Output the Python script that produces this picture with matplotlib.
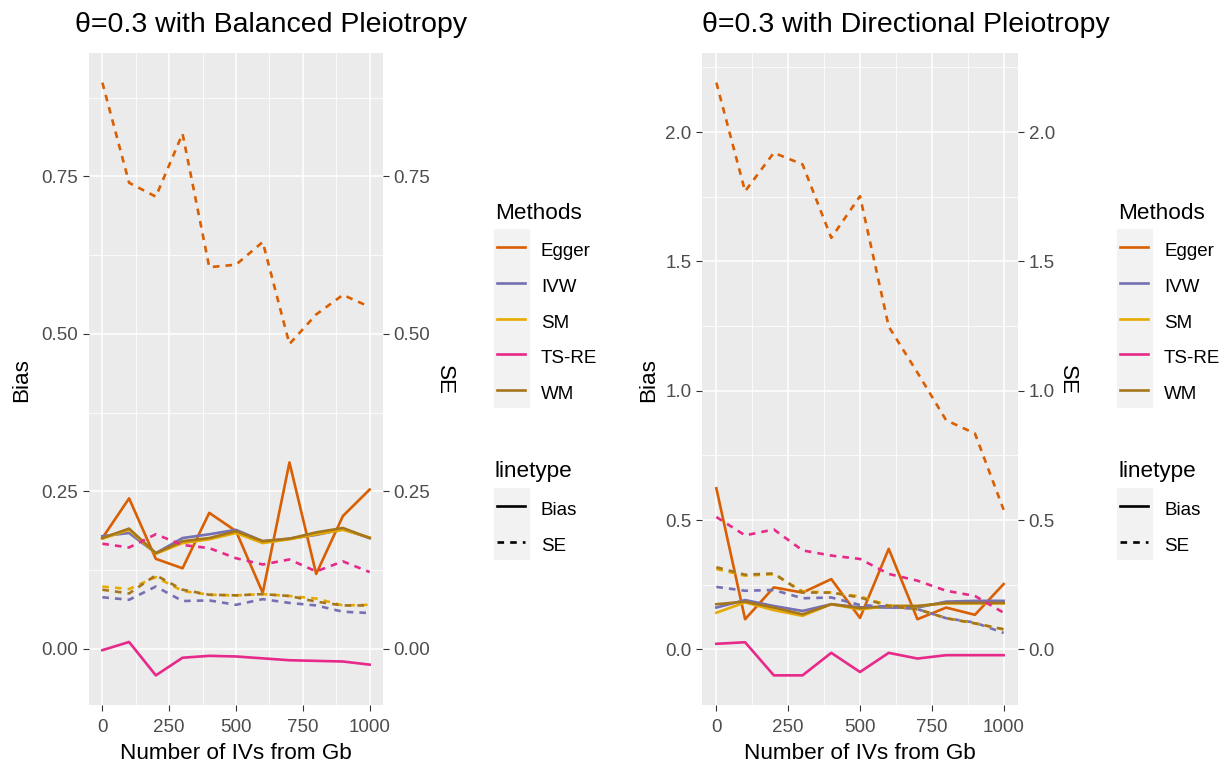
import matplotlib
matplotlib.use("Agg")
import matplotlib.pyplot as plt
from matplotlib.lines import Line2D
from matplotlib.patches import Rectangle
from matplotlib.ticker import FormatStrFormatter, FixedLocator

plt.rcParams['font.family'] = ['Liberation Sans', 'DejaVu Sans']

W, H = 1228, 768

n_ivs = [0, 100, 200, 300, 400, 500, 600, 700, 800, 900, 1000]
methods = ['Egger', 'IVW', 'SM', 'TS-RE', 'WM']
colors = ['#D95F02', '#7570B3', '#E6AB02', '#E7298A', '#A6761D']

# Balanced pleiotropy
bal_egger_bias = [0.176, 0.239, 0.143, 0.128, 0.216, 0.187, 0.089, 0.296, 0.119, 0.211, 0.253]
bal_ivw_bias = [0.179, 0.184, 0.152, 0.176, 0.182, 0.189, 0.171, 0.175, 0.181, 0.190, 0.176]
bal_sm_bias = [0.175, 0.189, 0.151, 0.168, 0.174, 0.184, 0.168, 0.174, 0.182, 0.189, 0.177]
bal_tsre_bias = [-0.002, 0.011, -0.042, -0.014, -0.011, -0.012, -0.015, -0.018, -0.019, -0.020, -0.025]
bal_wm_bias = [0.176, 0.191, 0.152, 0.171, 0.176, 0.187, 0.171, 0.175, 0.185, 0.192, 0.176]

bal_egger_se = [0.899, 0.740, 0.718, 0.818, 0.606, 0.610, 0.646, 0.484, 0.531, 0.562, 0.543]
bal_ivw_se = [0.082, 0.078, 0.099, 0.076, 0.077, 0.070, 0.079, 0.073, 0.069, 0.059, 0.057]
bal_sm_se = [0.099, 0.095, 0.114, 0.092, 0.086, 0.085, 0.087, 0.084, 0.080, 0.069, 0.070]
bal_tsre_se = [0.167, 0.161, 0.182, 0.165, 0.160, 0.144, 0.134, 0.142, 0.123, 0.139, 0.122]
bal_wm_se = [0.094, 0.088, 0.117, 0.094, 0.086, 0.085, 0.087, 0.084, 0.075, 0.069, 0.069]

# Directional pleiotropy
dir_egger_bias = [0.623, 0.117, 0.240, 0.220, 0.272, 0.122, 0.389, 0.117, 0.162, 0.134, 0.253]
dir_ivw_bias = [0.162, 0.191, 0.168, 0.149, 0.175, 0.163, 0.162, 0.162, 0.185, 0.188, 0.188]
dir_sm_bias = [0.142, 0.182, 0.152, 0.130, 0.175, 0.155, 0.168, 0.168, 0.178, 0.178, 0.178]
dir_tsre_bias = [0.022, 0.028, -0.100, -0.100, -0.013, -0.087, -0.013, -0.035, -0.022, -0.022, -0.022]
dir_wm_bias = [0.175, 0.185, 0.162, 0.136, 0.175, 0.160, 0.168, 0.168, 0.180, 0.180, 0.180]

dir_egger_se = [2.191, 1.771, 1.920, 1.875, 1.591, 1.752, 1.248, 1.070, 0.886, 0.835, 0.540]
dir_ivw_se = [0.242, 0.227, 0.230, 0.198, 0.201, 0.172, 0.165, 0.156, 0.121, 0.104, 0.064]
dir_sm_se = [0.311, 0.285, 0.291, 0.225, 0.220, 0.205, 0.170, 0.156, 0.121, 0.101, 0.078]
dir_tsre_se = [0.512, 0.441, 0.464, 0.383, 0.363, 0.350, 0.292, 0.266, 0.227, 0.207, 0.142]
dir_wm_se = [0.318, 0.289, 0.294, 0.220, 0.220, 0.201, 0.168, 0.156, 0.121, 0.101, 0.078]

titles = ['θ=0.3 with Balanced Pleiotropy', 'θ=0.3 with Directional Pleiotropy']
x_label = 'Number of IVs from Gb'
x_ticks = [0, 250, 500, 750, 1000]

LW = 1.9
DASH = (2.5, 2.3)


def fx(p):
    return p / W


def fy(p):
    return 1 - p / H


fig = plt.figure(figsize=(W / 100, H / 100), dpi=100)
fig.patch.set_facecolor('white')


def make_panel(rect, bias, se, y_major, y_minor, fmt, title, title_x, bias_x, se_x):
    left, top, right, bottom = rect
    ax = fig.add_axes([fx(left), fy(bottom), (right - left) / W, (bottom - top) / H])
    ax.set_facecolor('#EBEBEB')
    for s in ax.spines.values():
        s.set_visible(False)
    for vals, c in zip(bias, colors):
        ax.plot(n_ivs, vals, color=c, lw=LW, solid_joinstyle='round', zorder=3)
    for vals, c in zip(se, colors):
        ax.plot(n_ivs, vals, color=c, lw=LW, dashes=DASH, zorder=3)
    allv = [v for arr in bias + se for v in arr]
    lo, hi = min(allv), max(allv)
    pad = 0.05 * (hi - lo)
    ax.set_ylim(lo - pad, hi + pad)
    ax.set_xlim(-50, 1050)
    ax.xaxis.set_major_locator(FixedLocator(x_ticks))
    ax.xaxis.set_minor_locator(FixedLocator([125, 375, 625, 875]))
    ax.yaxis.set_major_locator(FixedLocator(y_major))
    ax.yaxis.set_minor_locator(FixedLocator(y_minor))
    ax.yaxis.set_major_formatter(FormatStrFormatter(fmt))
    ax.grid(which='major', color='white', lw=1.1, zorder=1)
    ax.grid(which='minor', color='white', lw=0.55, zorder=1)
    ax.set_axisbelow(True)
    ax.tick_params(which='minor', length=0)
    ax.tick_params(which='major', length=4.2, width=0.8, color='#333333',
                   labelsize=13.5, labelcolor='#4D4D4D')
    ax.tick_params(axis='y', pad=3.5)
    ax.tick_params(axis='x', pad=6)
    sec = ax.secondary_yaxis('right')
    for s in sec.spines.values():
        s.set_visible(False)
    sec.yaxis.set_major_locator(FixedLocator(y_major))
    sec.yaxis.set_major_formatter(FormatStrFormatter(fmt))
    sec.tick_params(which='major', length=4.2, width=0.8, color='#333333',
                    labelsize=13.5, labelcolor='#4D4D4D', pad=3.5)
    sec.tick_params(which='minor', length=0)
    # titles and axis titles
    fig.text(fx(title_x), fy(32), title, fontsize=20.5, ha='left', va='baseline')
    fig.text(fx((left + right) / 2), fy(759), x_label, fontsize=16.2, ha='center', va='baseline')
    fig.text(fx(bias_x), fy(380), 'Bias', fontsize=16.2, rotation=90, ha='center', va='center')
    fig.text(fx(se_x), fy(380), 'SE', fontsize=16.2, rotation=270, ha='center', va='center')
    return ax


make_panel((89, 53, 383, 705),
           [bal_egger_bias, bal_ivw_bias, bal_sm_bias, bal_tsre_bias, bal_wm_bias],
           [bal_egger_se, bal_ivw_se, bal_sm_se, bal_tsre_se, bal_wm_se],
           [0.0, 0.25, 0.5, 0.75], [-0.125, 0.125, 0.375, 0.625, 0.875], '%.2f',
           titles[0], 75, 22, 444)

make_panel((702, 53, 1018, 705),
           [dir_egger_bias, dir_ivw_bias, dir_sm_bias, dir_tsre_bias, dir_wm_bias],
           [dir_egger_se, dir_ivw_se, dir_sm_se, dir_tsre_se, dir_wm_se],
           [0.0, 0.5, 1.0, 1.5, 2.0], [0.25, 0.75, 1.25, 1.75, 2.25], '%.1f',
           titles[1], 702, 649, 1067)


def draw_legend(x0):
    KH = 35.8
    fig.text(fx(x0 + 1), fy(219), 'Methods', fontsize=16.2, ha='left', va='baseline')
    for i, (m, c) in enumerate(zip(methods, colors)):
        top = 229 + i * KH
        fig.patches.append(Rectangle((fx(x0), fy(top + KH)), 36 / W, KH / H,
                                     transform=fig.transFigure, facecolor='#F2F2F2',
                                     edgecolor='none'))
        cy = top + KH / 2
        fig.lines.append(Line2D([fx(x0 + 3), fx(x0 + 31)], [fy(cy), fy(cy)],
                                transform=fig.transFigure, color=c, lw=LW))
        fig.text(fx(x0 + 47), fy(cy + 9), m, fontsize=13.5, ha='left', va='baseline')
    fig.text(fx(x0 + 1), fy(477), 'linetype', fontsize=16.2, ha='left', va='baseline')
    for i, (lab, ls) in enumerate([('Bias', None), ('SE', DASH)]):
        top = 488 + i * KH
        fig.patches.append(Rectangle((fx(x0), fy(top + KH)), 36 / W, KH / H,
                                     transform=fig.transFigure, facecolor='#F2F2F2',
                                     edgecolor='none'))
        cy = top + KH / 2
        ln = Line2D([fx(x0 + 3), fx(x0 + 31)], [fy(cy), fy(cy)],
                    transform=fig.transFigure, color='black', lw=LW)
        if ls is not None:
            ln.set_dashes(ls)
        fig.lines.append(ln)
        fig.text(fx(x0 + 47), fy(cy + 9), lab, fontsize=13.5, ha='left', va='baseline')


draw_legend(494)
draw_legend(1117)

fig.savefig('out.png', dpi=100)
